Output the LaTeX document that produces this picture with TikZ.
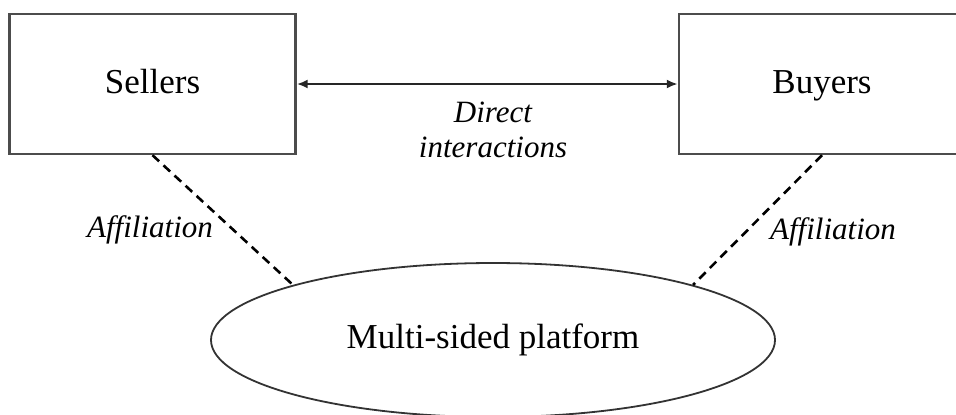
\documentclass[tikz,border=0pt]{standalone}
\usepackage{fontspec}
\setmainfont{Liberation Serif}
\usetikzlibrary{shapes.geometric,arrows.meta}

\begin{document}
\begin{tikzpicture}[x=0.5pt,y=-0.5pt,
    party/.style={draw=black!70,line width=1.2pt,minimum width=143pt,minimum height=70pt,text height=0.9em,text depth=0pt,font=\fontsize{17.5}{21}\selectfont},
    itlabel/.style={font=\itshape\fontsize{15.5}{17.5}\selectfont},
    affil/.style={dash pattern=on 4.5pt off 3pt,line width=1.3pt}]
    % 画布范围
    \useasboundingbox (0,0) rectangle (956,414);
    \clip (0,0) rectangle (956,414);

    % 卖方与买方方框
    \node [party] (sellers) at (152.5,84) {Sellers};
    \node [party] (buyers) at (822,84) {Buyers};

    % 平台椭圆
    \node [ellipse,draw=black!80,line width=0.9pt,inner sep=0pt,minimum width=282pt,minimum height=77pt,text height=0.8em,text depth=0pt,font=\fontsize{17.5}{21}\selectfont] (platform) at (493,340) {Multi-sided platform};

    % 直接交互
    \draw [{Latex[length=5.5pt,width=4.5pt]}-{Latex[length=5.5pt,width=4.5pt]},line width=1.1pt,black!85] (sellers) -- (buyers);
    \node [itlabel,align=center] (direct) at (493,130) {Direct\\interactions};

    % 隶属关系
    \draw [affil] (sellers.south) -- (platform.north west);
    \draw [affil] (buyers.south) -- (platform.north east);
    \node [itlabel] (affl) at (150,230) {Affiliation};
    \node [itlabel] (affr) at (833,232) {Affiliation};

\end{tikzpicture}
\end{document}
